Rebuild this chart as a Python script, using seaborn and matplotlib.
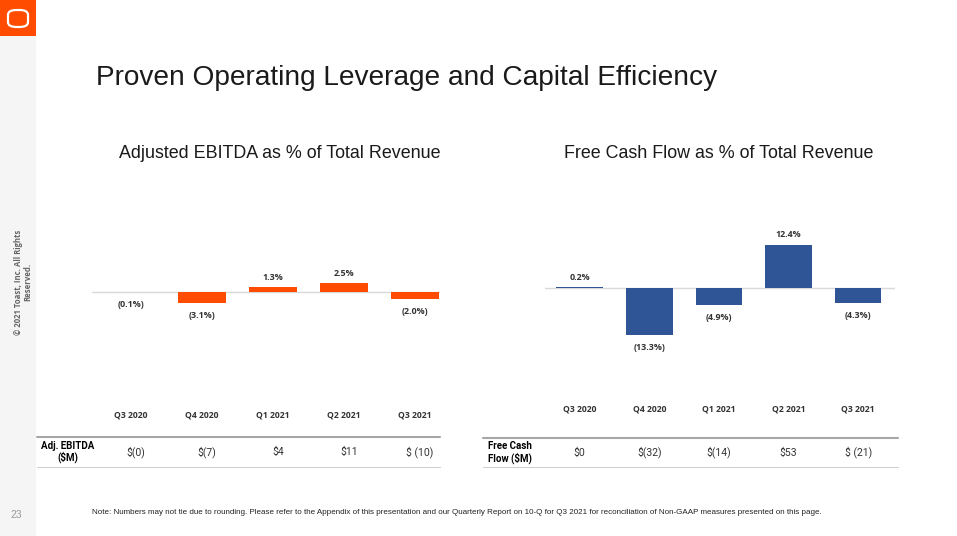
"""Toast Q3 2021 slide: Adjusted EBITDA / FCF as % of revenue."""
import matplotlib.pyplot as plt
import seaborn as sns
from matplotlib.lines import Line2D
from matplotlib.patches import Rectangle, FancyBboxPatch
from matplotlib.transforms import blended_transform_factory

W, H = 957, 536

quarters = ["Q3 2020", "Q4 2020", "Q1 2021", "Q2 2021", "Q3 2021"]
ebitda_pct = [-0.1, -3.1, 1.3, 2.5, -2.0]
fcf_pct = [0.2, -13.3, -4.9, 12.4, -4.3]
ebitda_usd = ["$(0)", "$(7)", "$4", "$11", "$ (10)"]
fcf_usd = ["$0", "$(32)", "$(14)", "$53", "$ (21)"]

ORANGE = "#FF4C00"
BLUE = "#2F5597"
DARK = "#333333"
BOLD_FONT = ["Open Sans", "DejaVu Sans"]


def px(x, y):
    # pixel coords (top-left origin) -> figure fraction
    return x / W, 1 - y / H


def fmt_pct(v):
    return f"({abs(v):.1f}%)" if v < 0 else f"{v:.1f}%"


def bar_panel(fig, rect, values, color, ylim, xlim):
    ax = fig.add_axes(rect)
    ax.axhline(0, color="#d9d9d9", lw=1, zorder=0)
    sns.barplot(x=quarters, y=values, color=color, saturation=1,
                width=0.67, linewidth=0, ax=ax)
    ax.set_ylim(*ylim)
    ax.set_xlim(*xlim)
    ax.set_yticks([])
    ax.set_xlabel("")
    ax.set_ylabel("")
    for s in ax.spines.values():
        s.set_visible(False)
    ax.tick_params(axis="x", length=0, pad=4, labelsize=6.2, labelcolor=DARK)
    for t in ax.get_xticklabels():
        t.set_fontweight("bold")
        t.set_family(BOLD_FONT)
    for i, v in enumerate(values):
        off = 7.2 if v >= 0 else -9
        ax.annotate(fmt_pct(v), (i, v), xytext=(0, off), textcoords="offset points",
                    ha="center", va="center", fontsize=6.4, fontweight="bold",
                    color=DARK, family=BOLD_FONT)
    return ax


def table_row(fig, ax, y_top, y_bot, x0, x1, label, label_x, label_ha, values, dx):
    fig.add_artist(Line2D([x0 / W, x1 / W], [1 - y_top / H] * 2, color="#a6a6a6", lw=1.5))
    fig.add_artist(Line2D([x0 / W, x1 / W], [1 - y_bot / H] * 2, color="#d0d0d0", lw=0.8))
    ymid = (y_top + y_bot) / 2
    fig.text(*px(label_x, ymid), label, ha=label_ha, va="center", fontsize=7,
             fontweight="bold", color="black", linespacing=1.1,
             family=["Roboto", "DejaVu Sans"])
    tr = blended_transform_factory(ax.transData, fig.transFigure)
    for i, v in enumerate(values):
        ax.text(i + dx, 1 - ymid / H, v, transform=tr, ha="center", va="center",
                fontsize=7.5, color=DARK, family=["Roboto", "DejaVu Sans"])


def main():
    sns.set_theme(style="white")
    plt.rcParams["font.family"] = ["Liberation Sans", "DejaVu Sans"]

    fig = plt.figure(figsize=(W / 100, H / 100), dpi=100)
    fig.patch.set_facecolor("white")

    # sidebar + logo
    fig.add_artist(Rectangle((0, 0), 36 / W, 1, transform=fig.transFigure,
                             facecolor="#f5f5f5", edgecolor="none", zorder=0))
    fig.add_artist(Rectangle(px(0, 36), 36 / W, 36 / H, transform=fig.transFigure,
                             facecolor=ORANGE, edgecolor="none", zorder=1))
    fig.add_artist(FancyBboxPatch(px(8, 27), 20 / W, 17 / H, transform=fig.transFigure,
                                  boxstyle="round,pad=0,rounding_size=0.009",
                                  facecolor="none", edgecolor="white", lw=1.6, zorder=2))
    fig.text(*px(23, 282), "© 2021 Toast, Inc. All Rights\nReserved.", rotation=90,
             ha="center", va="center", fontsize=5.6, fontweight="bold", color="#666666",
             family=BOLD_FONT, linespacing=1.1)
    fig.text(*px(16, 515), "23", ha="center", va="center", fontsize=7.5, color="#999999")

    fig.text(*px(96, 78), "Proven Operating Leverage and Capital Efficiency",
             ha="left", va="center", fontsize=20.2, color="#1a1a1a")
    fig.text(*px(280, 154), "Adjusted EBITDA as % of Total Revenue",
             ha="center", va="center", fontsize=12.9, color="#1a1a1a")
    fig.text(*px(719, 154), "Free Cash Flow as % of Total Revenue",
             ha="center", va="center", fontsize=12.9, color="#1a1a1a")

    # panel geometry: 3.5 px per percentage point, zero lines at y=292 / 288
    ax1 = bar_panel(fig, [92 / W, 1 - 405 / H, 348 / W, 175 / H], ebitda_pct, ORANGE,
                    ylim=(-(405 - 292) / 3.5, (292 - 230) / 3.5), xlim=(-0.55, 4.35))
    ax2 = bar_panel(fig, [545 / W, 1 - 399 / H, 350 / W, 169 / H], fcf_pct, BLUE,
                    ylim=(-(399 - 288) / 3.5, (288 - 230) / 3.5), xlim=(-0.5, 4.53))

    table_row(fig, ax1, 437, 467, 37, 440, "Adj. EBITDA\n($M)", 68, "center",
              ebitda_usd, 0.07)
    table_row(fig, ax2, 438, 467, 483, 898, "Free Cash\nFlow ($M)", 488, "left",
              fcf_usd, 0.0)

    fig.text(*px(92, 512), "Note: Numbers may not tie due to rounding. Please refer to the "
             "Appendix of this presentation and our Quarterly Report on 10-Q for Q3 2021 "
             "for reconciliation of Non-GAAP measures presented on this page.",
             ha="left", va="center", fontsize=5.75, color="#222222",
             family=["Liberation Sans Narrow", "Liberation Sans", "DejaVu Sans"])

    fig.savefig("out.png", dpi=100)
    plt.close(fig)


if __name__ == "__main__":
    main()
